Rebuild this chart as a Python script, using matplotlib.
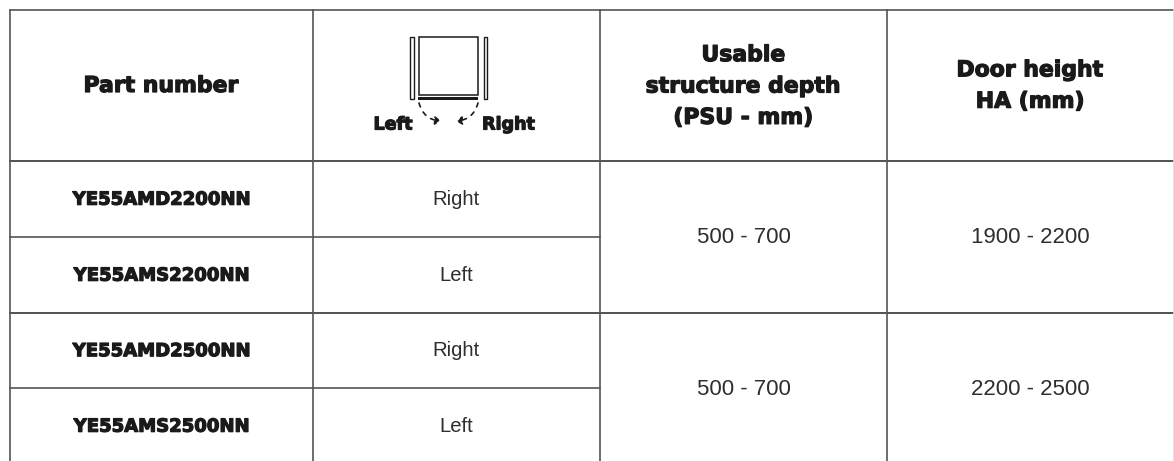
import matplotlib
matplotlib.use("Agg")
import matplotlib.pyplot as plt
from matplotlib.patches import Rectangle, FancyArrowPatch
import matplotlib.patheffects as pe

W, H = 1174, 461
part_numbers = ["YE55AMD2200NN", "YE55AMS2200NN", "YE55AMD2500NN", "YE55AMS2500NN"]
sides = ["Right", "Left", "Right", "Left"]
depths = ["500 - 700", "500 - 700"]
heights = ["1900 - 2200", "2200 - 2500"]
headers = ["Part number", "Usable\nstructure depth\n(PSU - mm)", "Door height\nHA (mm)"]
col_x = [10, 312.5, 600, 887, 1173.5]
row_y = [10, 161, 237, 313, 388, 464]

INK = "#1a1a1a"
LINE = "#555555"
heavy = dict(family="DejaVu Sans", fontweight="bold", color=INK, ha="center", va="center",
             path_effects=[pe.withStroke(linewidth=0.9, foreground=INK)])
light = dict(family="Liberation Sans", color="#2e2e2e", ha="center", va="center")

fig = plt.figure(figsize=(W / 100, H / 100), dpi=100)
ax = fig.add_axes([0, 0, 1, 1])
ax.set_xlim(0, W)
ax.set_ylim(H, 0)
ax.axis("off")

# grid
ax.plot([col_x[0], col_x[-1]], [row_y[0]] * 2, color=LINE, lw=1.2)
ax.plot([col_x[0], col_x[-1]], [row_y[1]] * 2, color="#333333", lw=1.2)
ax.plot([col_x[0], col_x[2]], [row_y[2]] * 2, color=LINE, lw=1.2)
ax.plot([col_x[0], col_x[-1]], [row_y[3]] * 2, color="#333333", lw=1.2)
ax.plot([col_x[0], col_x[2]], [row_y[4]] * 2, color=LINE, lw=1.2)
for i, x in enumerate(col_x):
    ax.plot([x, x], [row_y[0], row_y[-1]], color="#dddddd" if i == 4 else LINE, lw=1.2)

# header text
mid = lambda a, b: (a + b) / 2
ax.text(mid(col_x[0], col_x[1]), 86, headers[0], fontsize=15.8, **heavy)
ax.text(mid(col_x[2], col_x[3]), 86.5, headers[1], fontsize=15.8, linespacing=1.71, **heavy)
ax.text(mid(col_x[3], col_x[4]), 86, headers[2], fontsize=15.8, linespacing=1.71, **heavy)

# body text
for i in range(4):
    yc = mid(row_y[i + 1], row_y[i + 2])
    ax.text(mid(col_x[0], col_x[1]), yc + 0.7, part_numbers[i], fontsize=13, **heavy)
    ax.text(mid(col_x[1], col_x[2]), yc, sides[i], fontsize=14.6, **light)
for i in range(2):
    yc = mid(row_y[1 + 2 * i], row_y[3 + 2 * i])
    ax.text(mid(col_x[2], col_x[3]), yc + 0.7, depths[i], fontsize=16, **light)
    ax.text(mid(col_x[3], col_x[4]), yc + 0.7, heights[i], fontsize=16, **light)

# door icon
ax.add_patch(Rectangle((418.5, 37.5), 59, 57.5, fill=False, ec=INK, lw=1.1))
ax.add_patch(Rectangle((410, 37.5), 3.5, 62, fill=False, ec=INK, lw=1.0))
ax.add_patch(Rectangle((483.5, 37.5), 3.5, 62, fill=False, ec=INK, lw=1.0))
ax.add_patch(Rectangle((418, 97), 60, 3, fc=INK, ec="none"))
ax.text(393, 124.5, "Left", fontsize=12.6, **heavy)
ax.text(508.5, 124.5, "Right", fontsize=12.6, **heavy)
for start, end, rad in [((419, 103), (441, 121), 0.35), ((478, 103), (456, 121), -0.35)]:
    ax.add_patch(FancyArrowPatch(start, end, connectionstyle=f"arc3,rad={rad}",
                                 arrowstyle="-|>,head_width=2.5,head_length=3.5",
                                 ls=(0, (2.5, 3.5)), lw=1.2, color=INK, shrinkA=0, shrinkB=0))

fig.savefig("out.png", dpi=100, facecolor="white")
